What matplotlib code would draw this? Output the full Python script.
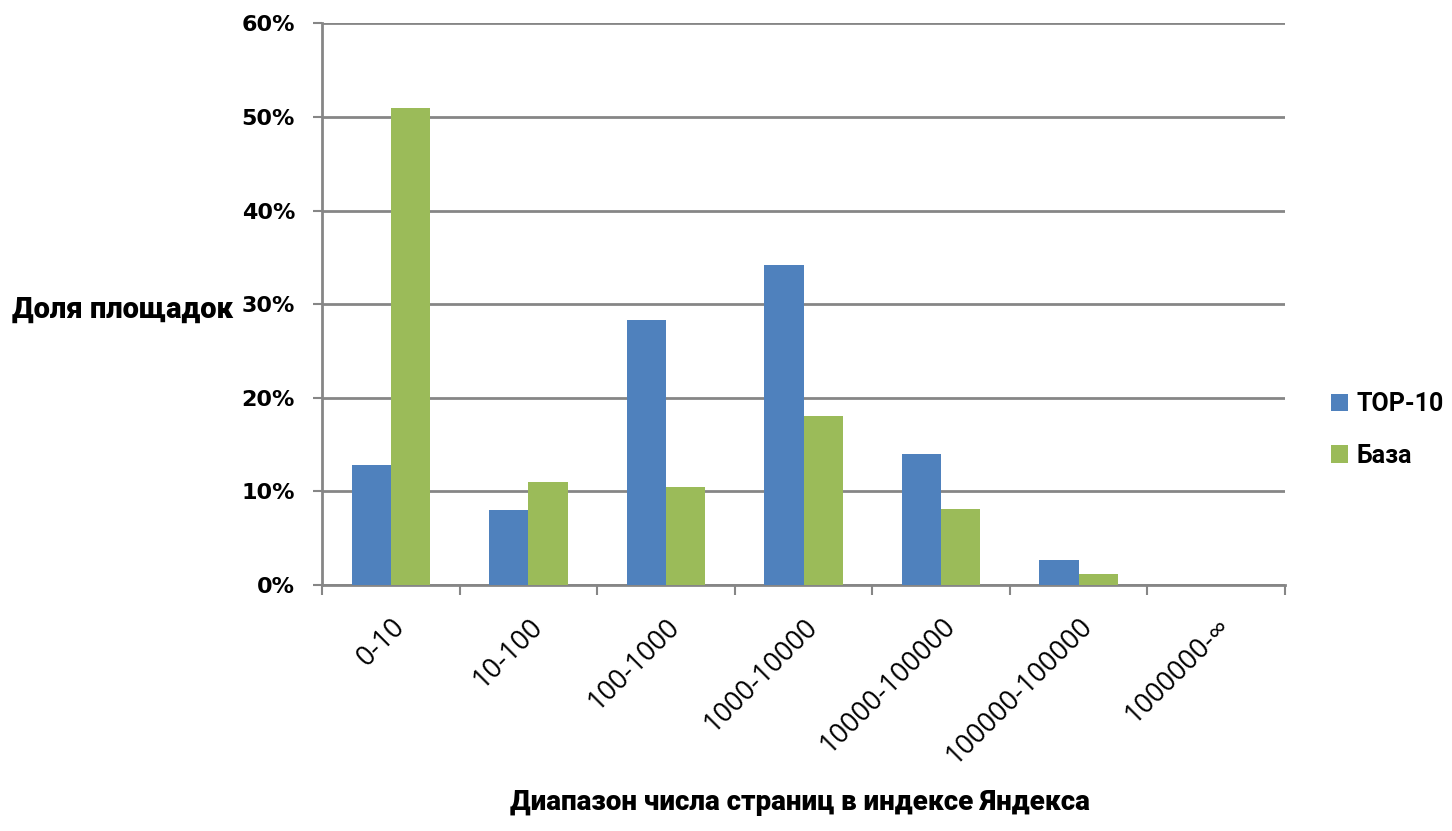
import numpy as np
import matplotlib.pyplot as plt
from matplotlib.ticker import FixedLocator, PercentFormatter

categories = ["0-10", "10-100", "100-1000", "1000-10000", "10000-100000",
              "100000-100000", "1000000-\u221e"]
top10 = [12.8, 8.0, 28.3, 34.2, 14.0, 2.7, 0.0]
baza = [51.0, 11.0, 10.5, 18.1, 8.1, 1.2, 0.0]

plt.rcParams['font.family'] = ['Open Sans', 'DejaVu Sans']
heavy = ['Roboto', 'DejaVu Sans']

fig = plt.figure(figsize=(14.52, 8.31), dpi=100)
ax = fig.add_axes([0.2218, 0.296, 0.6632, 0.676])

x = np.arange(len(categories))
w = 1 / 3.5
ax.bar(x - w / 2, top10, w, color='#4F81BD', label='TOP-10', zorder=3)
ax.bar(x + w / 2, baza, w, color='#9BBB59', label='База', zorder=3)

ax.set_xlim(-0.5, len(categories) - 0.5)
ax.set_ylim(0, 60)
ax.set_yticks(np.arange(0, 61, 10))
ax.yaxis.set_major_formatter(PercentFormatter(decimals=0))
ax.grid(axis='y', color='#868686', linewidth=2, zorder=0)

ax.set_xticks(x)
ax.set_xticklabels(categories, rotation=45, ha='right', rotation_mode='anchor',
                   fontsize=19.5)
ax.xaxis.set_minor_locator(FixedLocator(np.arange(-0.5, len(categories), 1)))
ax.tick_params(axis='x', which='major', length=0, pad=20)
ax.tick_params(axis='x', which='minor', length=7, width=1.5, color='#868686')
ax.tick_params(axis='y', length=6.5, width=1.5, color='#868686', pad=13)
for lbl in ax.get_yticklabels():
    lbl.set_fontsize(16)
    lbl.set_fontweight('bold')
    lbl.set_family('DejaVu Sans')

for s in ['top', 'right']:
    ax.spines[s].set_visible(False)
for s in ['left', 'bottom']:
    ax.spines[s].set_color('#868686')
    ax.spines[s].set_linewidth(2)

fig.text(0.008, 0.627, 'Доля площадок', fontsize=21, fontweight='heavy',
         va='center', ha='left', family=heavy)
fig.text(0.551, 0.018, 'Диапазон числа страниц в индексе Яндекса', fontsize=20,
         fontweight='heavy', ha='center', va='bottom', family=heavy)

ax.legend(loc='center left', bbox_to_anchor=(1.024, 0.276), frameon=False,
          prop={'size': 18, 'weight': 'bold', 'family': heavy},
          handlelength=0.68, handleheight=0.68,
          labelspacing=1.1, handletextpad=0.35)

fig.savefig('out.png', dpi=100)
